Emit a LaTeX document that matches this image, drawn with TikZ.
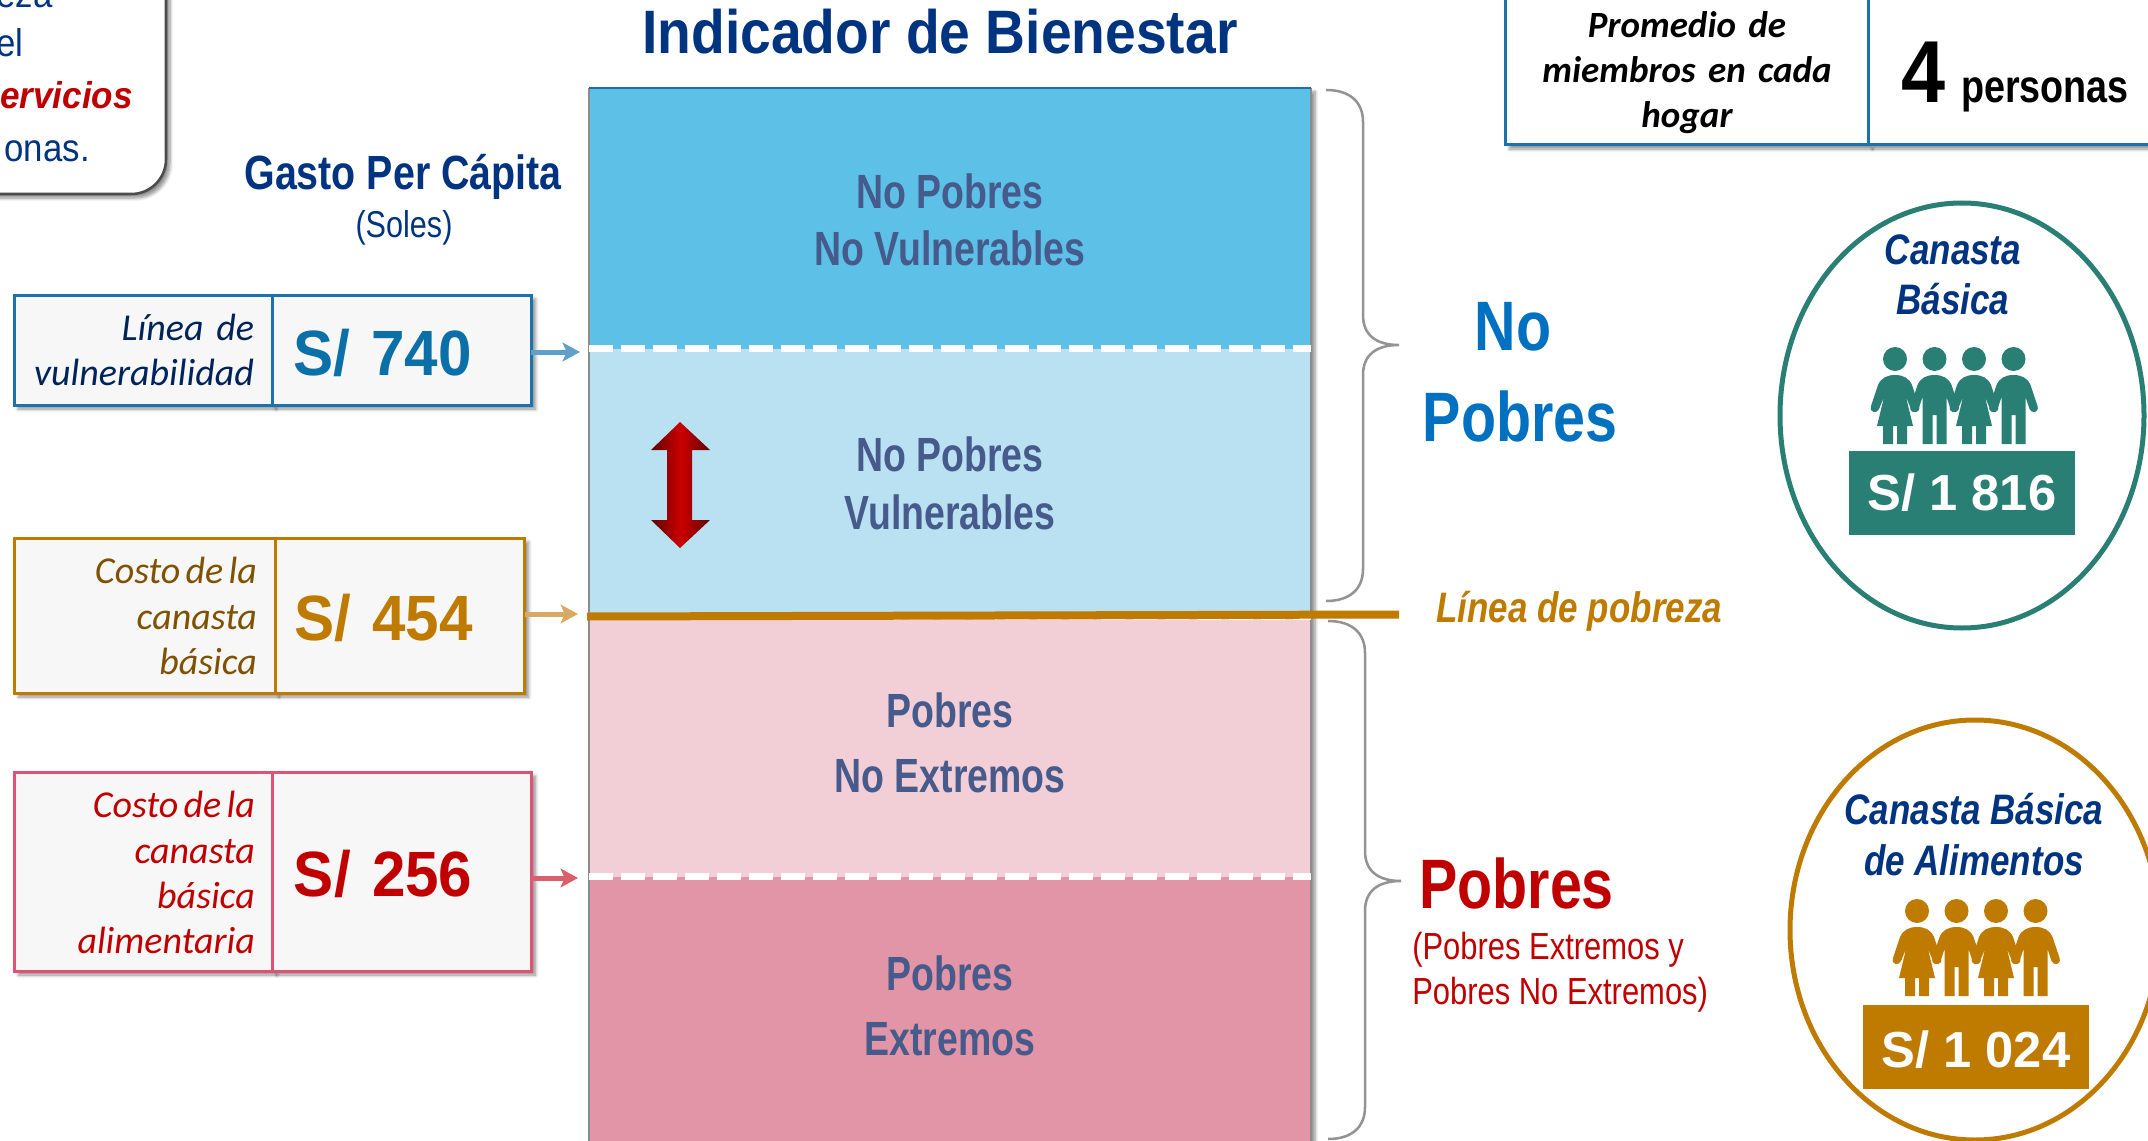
\documentclass[tikz,border=0pt]{standalone}
\usepackage{fontspec}
\usepackage{tikz}
\usetikzlibrary{shapes.geometric,arrows.meta,positioning,shadows.blur}
\setmainfont{Liberation Sans}
\newfontfamily\narrowfont[FakeStretch=.82]{Liberation Sans}
\newfontfamily\bandfont[FakeStretch=.78]{Liberation Sans}
\newfontfamily\titlefont[FakeStretch=.9]{Liberation Sans}
\newfontfamily\valuefont[FakeStretch=.94]{Liberation Sans}
\newfontfamily\calfont[WordSpace=.6]{Carlito}
\definecolor{navytext}{HTML}{003380}
\definecolor{bandtext}{HTML}{465A8C}
\definecolor{oceanline}{HTML}{1C73AB}
\definecolor{oceantext}{HTML}{0B6FA8}
\definecolor{goldline}{HTML}{BF7A00}
\definecolor{rosered}{HTML}{E05274}
\definecolor{darkred}{HTML}{C00000}
\definecolor{tealline}{HTML}{2A7F75}
\definecolor{bluetext}{HTML}{0070C0}
\definecolor{cellgray}{HTML}{F7F7F7}
\tikzset{
  softshadow/.style={blur shadow={shadow xshift=3pt,shadow yshift=-3pt,shadow blur radius=2.5pt,shadow blur steps=6,shadow opacity=45}},
  peopleshadow/.style={blur shadow={shadow xshift=4.5pt,shadow yshift=-3pt,shadow blur radius=4pt,shadow blur steps=6,shadow opacity=60}},
  girlfig/.pic={
    \path[pic actions] (0,0) circle[radius=12];
    \path[pic actions] (0,16) .. controls (8,16) and (14,19) .. (17,26) -- (24,47)
      .. controls (26,54) and (18,55) .. (16,50) -- (11,38) -- (18,67) -- (12,67) -- (12,85) -- (2,85) -- (2,67) -- (-2,67)
      -- (-2,85) -- (-12,85) -- (-12,67) -- (-18,67) -- (-11,38) -- (-16,50)
      .. controls (-18,55) and (-26,54) .. (-24,47) -- (-17,26) .. controls (-14,19) and (-8,16) .. (0,16) -- cycle;
  },
  boyfig/.pic={
    \path[pic actions] (0,0) circle[radius=12];
    \path[pic actions] (0,16) .. controls (8,16) and (14,19) .. (17,26) -- (24,47)
      .. controls (26,54) and (18,55) .. (16,50) -- (12,38) -- (12,85) -- (2,85) -- (2,56) -- (-2,56)
      -- (-2,85) -- (-12,85) -- (-12,38) -- (-16,50)
      .. controls (-18,55) and (-26,54) .. (-24,47) -- (-17,26) .. controls (-14,19) and (-8,16) .. (0,16) -- cycle;
  },
}
\newcommand{\bigbrace}[4]{%
  \draw[bracket] (#1,#2) .. controls (#1+24,#2) and (#1+37,#2+12) .. (#1+37,#2+32) -- (#1+37,#3-30)
    .. controls (#1+37,#3-10) and (#1+50,#3) .. (#1+73,#3) .. controls (#1+50,#3) and (#1+37,#3+10) .. (#1+37,#3+30)
    -- (#1+37,#4-32) .. controls (#1+37,#4-12) and (#1+24,#4) .. (#1,#4);}
\newcommand{\family}[3]{%
  \foreach \px/\kind in {0/girlfig,39.5/boyfig,79/girlfig,118.5/boyfig}
    \pic[fill=#3,peopleshadow] at (#1+\px,#2) {\kind};}

\begin{document}
\begin{tikzpicture}[x=.75pt,y=-.75pt]
\tikzstyle{band} = [rectangle, inner sep=0pt, outer sep=0pt, minimum width=541.5pt, align=center, text=bandtext, text depth=10pt, font=\bandfont\bfseries\fontsize{36}{43}\selectfont]
\tikzstyle{cell} = [rectangle, draw, fill=cellgray, line width=2.25pt, inner ysep=0pt, outer sep=0pt, softshadow]
\tikzstyle{labelcell} = [cell, inner xsep=13.5pt, align=right, text height=0pt, font=\calfont\itshape\fontsize{28.5}{34}\selectfont]
\tikzstyle{valuecell} = [cell, inner xsep=15.75pt, align=left, text height=44pt, text depth=6pt, font=\valuefont\bfseries\fontsize{48}{48}\selectfont]
\tikzstyle{pointer} = [draw, line width=3.75pt, -{Stealth[length=13pt,width=14pt,inset=3pt]}]
\tikzstyle{bracket} = [draw=gray!85!white, line width=1.9pt]
\tikzstyle{oval} = [ellipse, draw, line width=3.75pt, inner sep=0pt]
\tikzstyle{price} = [rectangle, inner sep=0pt, minimum width=169.5pt, minimum height=63pt, text=white, text depth=2pt, font=\bfseries\fontsize{38}{40}\selectfont]
\tikzstyle{ovaltext} = [anchor=base, align=center, text=navytext, font=\narrowfont\bfseries\itshape\fontsize{32}{38}\selectfont]
\tikzstyle{notetext} = [anchor=base east, inner sep=0pt, text=navytext, font=\titlefont\fontsize{29}{34}\selectfont]
\useasboundingbox (0,0) rectangle (2148,1141);

% left note
\node [rectangle, rounded corners=26pt, draw=black!70, fill=white, line width=1.9pt, minimum width=180pt, minimum height=201pt, softshadow] (notebox) at (46,60) {};
\node [notetext] (noteone) at (53,8) {eza};
\node [notetext] (notetwo) at (24,57) {el};
\node [notetext, text=darkred, font=\valuefont\bfseries\itshape\fontsize{28}{34}\selectfont] (notethree) at (133,109) {ervicios};
\node [notetext] (notefour) at (90,162) {onas.};

% column of bands
\node [anchor=base, text=navytext, font=\titlefont\bfseries\fontsize{46}{50}\selectfont] (title) at (940,54) {Indicador de Bienestar};
\node [band, minimum height=790pt, fill=black!50, softshadow] (column) at (950,614.5) {};
\node [band, minimum height=195pt, fill={rgb,255:red,93;green,192;blue,231}, text height=80.5pt] (nonvuln) at (950,218.5) {No Pobres\\No Vulnerables};
\node [band, minimum height=201pt, fill={rgb,255:red,186;green,225;blue,241}, text height=79.75pt, below=0pt of nonvuln] (vuln) {No Pobres\\Vulnerables};
\node [band, minimum height=195pt, fill={rgb,255:red,242;green,207;blue,215}, text height=79pt, below=0pt of vuln] (nonext) {Pobres\\[6pt]No Extremos};
\node [band, minimum height=199.5pt, fill={rgb,255:red,226;green,149;blue,167}, text height=79pt, below=0pt of nonext] (ext) {Pobres\\[6pt]Extremos};
\draw [black!45, line width=1.5pt] (nonvuln.north west) -- (ext.south west);
\draw [black!45, line width=1.5pt] (nonvuln.north east) -- (ext.south east);
\draw [oceanline, line width=1.5pt] (nonvuln.north west) -- (nonvuln.north east);
\draw [white, line width=5.5pt, dash pattern=on 18pt off 6pt] (nonvuln.south west) -- (nonvuln.south east);
\draw [white, line width=5.5pt, dash pattern=on 18pt off 6pt] (vuln.south west) -- (vuln.south east);
\draw [white, line width=5.5pt, dash pattern=on 18pt off 6pt] (nonext.south west) -- (nonext.south east);
\path [left color=red!38!black, right color=red!38!black, middle color=red!80!black] (680,422) -- (710,450) -- (692,450) -- (692,520) -- (710,520) -- (680,548) -- (651,520) -- (667,520) -- (667,450) -- (651,450) -- cycle;

% left boxes
\node [anchor=base, text=navytext, font=\narrowfont\bfseries\fontsize{36}{40}\selectfont] (gasto) at (403,190) {Gasto Per Cápita};
\node [anchor=base, text=navytext, font=\narrowfont\fontsize{28}{30}\selectfont] (soles) at (404,238) {(Soles)};

\node [labelcell, draw=oceanline, text=navytext!70!black, text width=166.5pt, minimum height=82.5pt, text depth=15pt] (vullabel) at (143,350) {Línea de\\vulnerabilidad};
\node [valuecell, draw=oceanline, text=oceantext, text width=163.1pt, minimum height=82.5pt, right=0pt of vullabel] (vulvalue) {S/ 740};
\node [labelcell, draw=goldline, text={rgb,255:red,127;green,82;blue,0}, text width=168.4pt, minimum height=116.25pt, text depth=47.3pt] (costlabel) at (144.75,615.5) {Costo\hspace{.14em}de\hspace{.14em}la\\canasta\\básica};
\node [valuecell, draw=goldline, text=goldline, inner xsep=14.25pt, text width=158.65pt, minimum height=116.25pt, right=0pt of costlabel] (costvalue) {S/ 454};
\node [labelcell, draw=rosered, text=darkred, text width=166.85pt, minimum height=149.25pt, text depth=80.3pt] (foodlabel) at (143.65,871.5) {Costo\hspace{.14em}de\hspace{.14em}la\\canasta\\básica\\alimentaria};
\node [valuecell, draw=rosered, text=darkred, text width=162.4pt, minimum height=149.25pt, right=0pt of foodlabel] (foodvalue) {S/ 256};

\coordinate (vultip) at (580,352);
\coordinate (costtip) at (578,614);
\coordinate (foodtip) at (578,878);
\path [pointer, draw={rgb,255:red,95;green,160;blue,200}] (vulvalue.east |- vultip) -- (vultip);
\path [pointer, draw={rgb,255:red,214;green,170;blue,98}] (costvalue.east |- costtip) -- (costtip);
\path [pointer, draw={rgb,255:red,217;green,96;blue,106}] (foodvalue.east |- foodtip) -- (foodtip);

% braces and line
\coordinate (povleft) at (587,616.5);
\coordinate (povright) at (1399,614.5);
\draw [goldline, line width=6pt] (povleft) -- (povright);
\bigbrace{1326}{90}{345}{601}
\bigbrace{1328}{621}{881}{1139}
\node [anchor=base, text=bluetext, font=\narrowfont\bfseries\fontsize{52.5}{60}\selectfont] (nolabel) at (1513,350) {No};
\node [anchor=base, text=bluetext, font=\narrowfont\bfseries\fontsize{52.5}{60}\selectfont] (pobreslabel) at (1520,441) {Pobres};
\node [anchor=base west, inner sep=0pt, text=goldline, font=\narrowfont\bfseries\itshape\fontsize{32}{36}\selectfont] (povlabel) at (1436,622) {Línea de pobreza};
\node [anchor=base west, inner sep=0pt, text=darkred, font=\narrowfont\bfseries\fontsize{52.5}{60}\selectfont] (poorlabel) at (1419,908) {Pobres};
\node [anchor=base west, inner sep=0pt, align=left, text=darkred, font=\narrowfont\fontsize{28.3}{33.75}\selectfont] (poorsub) at (1412,1004) {(Pobres Extremos y\\Pobres No Extremos)};

% top right table
\node [rectangle, draw=oceanline, fill=white, line width=2.25pt, inner xsep=0pt, outer sep=0pt, minimum width=272.25pt, minimum height=131.25pt, align=center, text width=272.25pt, text height=0pt, text depth=29.8pt, softshadow, font=\calfont\bfseries\itshape\fontsize{27.75}{33.75}\selectfont] (members) at (1687,57.5) {Promedio de\\miembros en cada\\hogar};
\node [rectangle, draw=oceanline, fill=white, line width=2.25pt, inner xsep=25pt, inner ysep=0pt, outer sep=0pt, minimum width=241.5pt, minimum height=131.25pt, align=left, text width=191.5pt, text height=72pt, text depth=5pt, softshadow, right=0pt of members, font=\narrowfont\bfseries\fontsize{34.5}{40}\selectfont] (persons) {{\titlefont\fontsize{66}{66}\selectfont 4} personas};

% ovals on the right
\node [oval, draw=tealline, minimum width=273pt, minimum height=318.75pt] (tealoval) at (1962,415.5) {};
\node [ovaltext] (tealtitle) at (1953,315) {Canasta\\Básica};
\family{1895}{359}{tealline}
\node [price, fill=tealline, text height=27.5pt] (tealprice) at (1962,493) {S/ 1 816};
\node [oval, draw=goldline, minimum width=277.5pt, minimum height=315pt] (goldoval) at (1975,930) {};
\node [ovaltext] (goldtitle) at (1974,875) {Canasta Básica\\de Alimentos};
\family{1917}{911}{goldline}
\node [price, fill=goldline, text height=32pt] (goldprice) at (1976,1047) {S/ 1 024};
\end{tikzpicture}
\end{document}
